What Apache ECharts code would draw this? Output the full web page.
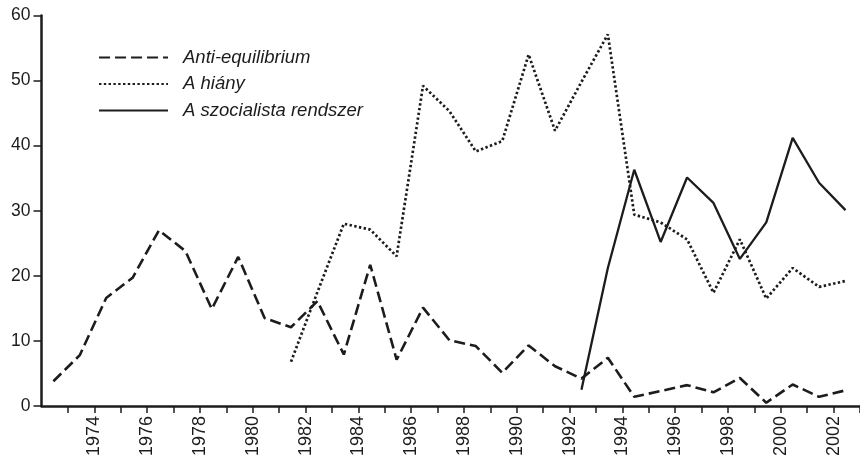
<!DOCTYPE html>
<html>
<head>
<meta charset="utf-8">
<script src="https://cdn.jsdelivr.net/npm/echarts@6/dist/echarts.min.js"></script>
<style>
  html, body { margin: 0; padding: 0; background: #fff; }
  #chart { width: 860px; height: 459px; }
</style>
</head>
<body>
<div id="chart"></div>
<script>
const years = [1972, 1973, 1974, 1975, 1976, 1977, 1978, 1979, 1980, 1981, 1982, 1983, 1984, 1985, 1986,
    1987, 1988, 1989, 1990, 1991, 1992, 1993, 1994, 1995, 1996, 1997, 1998, 1999, 2000, 2001, 2002];

const antiEquilibrium = [3.8, 7.8, 16.6, 19.7, 27.0, 23.8, 14.9, 22.9, 13.5, 12.1, 16.1, 7.9, 21.7, 7.1, 15.1,
    10.1, 9.2, 5.1, 9.3, 6.1, 4.2, 7.4, 1.4, 2.3, 3.2, 2.1, 4.3, 0.5, 3.3, 1.4, 2.4];

const aHiany = [null, null, null, null, null, null, null, null, null, 6.8, 17.5, 28.0, 27.1, 23.0, 49.2,
    45.3, 39.1, 40.7, 54.0, 42.3, 49.8, 57.1, 29.4, 28.2, 25.6, 17.4, 25.6, 16.5, 21.2, 18.3, 19.2];

const szocialistaRendszer = [null, null, null, null, null, null, null, null, null, null, null, null, null, null, null,
    null, null, null, null, null, 2.5, 21.2, 36.3, 25.2, 35.1, 31.2, 22.6, 28.2, 41.2, 34.3, 30.1];

const seriesNames = ['Anti-equilibrium', 'A hiány', 'A szocialista rendszer'];

const ink = '#1c1c1c';
const font = '"Liberation Sans", Arial, sans-serif';

// points sit inside their year, between two ticks
const toPoints = (values) => years.map((y, i) => [y + 0.45, values[i]]);

const lineSeries = (name, values, lineStyle) => ({
    name,
    type: 'line',
    data: toPoints(values),
    symbol: 'none',
    connectNulls: false,
    color: ink,
    lineStyle: { color: ink, ...lineStyle },
});

const chart = echarts.init(document.getElementById('chart'), null, { renderer: 'canvas' });

chart.setOption({
    backgroundColor: '#fff',
    animation: false,
    grid: { left: 41.5, right: -5, top: 15.5, bottom: 52.5, containLabel: false },
    legend: {
        orient: 'vertical',
        left: 98,
        top: 48,
        padding: 0,
        itemWidth: 69,
        itemHeight: 16,
        itemGap: 7.5,
        data: seriesNames,
        // only the line sample, no marker dot
        itemStyle: { opacity: 0, color: 'rgba(0,0,0,0)', borderWidth: 0 },
        textStyle: {
            color: ink,
            fontSize: 18.5,
            fontStyle: 'italic',
            fontFamily: font,
            padding: [0, 0, 0, 10],
        },
    },
    xAxis: {
        type: 'value',
        min: 1972,
        max: 2003,
        interval: 1,
        axisLine: { show: true, onZero: false, lineStyle: { color: ink, width: 2.5 } },
        axisTick: { show: true, length: 7, lineStyle: { color: ink, width: 1.5 } },
        axisLabel: {
            showMinLabel: false,
            rotate: 90,
            margin: 10,
            color: ink,
            fontSize: 18,
            fontFamily: font,
            formatter: (v) => (v % 2 === 0 ? String(v) : ''),
        },
        splitLine: { show: false },
    },
    yAxis: {
        type: 'value',
        min: 0,
        max: 60,
        interval: 10,
        axisLine: { show: true, lineStyle: { color: ink, width: 2.5 } },
        axisTick: { show: true, length: 8, lineStyle: { color: ink, width: 1.5 } },
        axisLabel: { color: ink, fontSize: 17.5, fontFamily: font, margin: 11 },
        splitLine: { show: false },
    },
    series: [
        lineSeries(seriesNames[0], antiEquilibrium, { width: 2.6, type: [11, 5] }),
        lineSeries(seriesNames[1], aHiany, { width: 2.7, type: [2.4, 2.4] }),
        lineSeries(seriesNames[2], szocialistaRendszer, { width: 2.3, type: 'solid' }),
    ],
});
</script>
</body>
</html>
